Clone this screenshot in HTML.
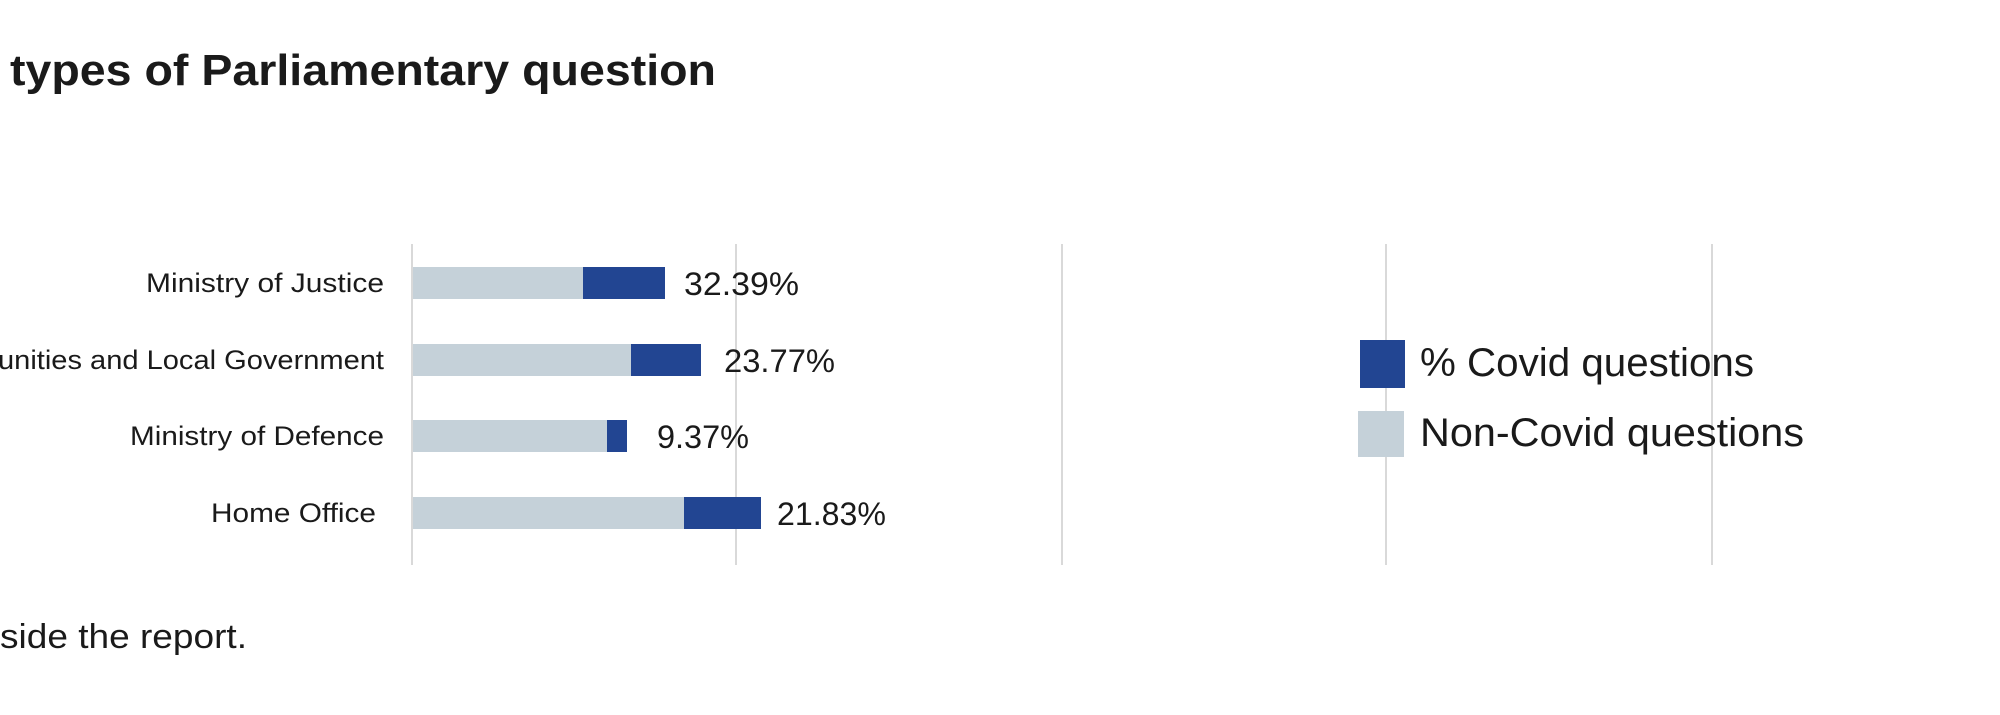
<!DOCTYPE html>
<html><head><meta charset="utf-8"><style>
html,body{margin:0;padding:0;background:#fff;}
svg{display:block;}
text{font-family:"Liberation Sans",sans-serif;fill:#1a1a1a;}
</style></head><body>
<svg width="2000" height="715" viewBox="0 0 2000 715" xmlns="http://www.w3.org/2000/svg">
<rect width="2000" height="715" fill="#fff"/>
<text x="10" y="85" font-size="44" font-weight="bold" textLength="706" lengthAdjust="spacingAndGlyphs">types of Parliamentary question</text>
<g stroke="#d9d9d9" stroke-width="2">
<line x1="412" y1="244" x2="412" y2="565"/>
<line x1="736" y1="244" x2="736" y2="565"/>
<line x1="1062" y1="244" x2="1062" y2="565"/>
<line x1="1386" y1="244" x2="1386" y2="565"/>
<line x1="1712" y1="244" x2="1712" y2="565"/>
</g>
<g>
<rect x="413" y="267" width="170" height="32" fill="#c5d1d9"/>
<rect x="583" y="267" width="82" height="32" fill="#224592"/>
<rect x="413" y="344" width="218" height="32" fill="#c5d1d9"/>
<rect x="631" y="344" width="70" height="32" fill="#224592"/>
<rect x="413" y="420" width="194" height="32" fill="#c5d1d9"/>
<rect x="607" y="420" width="20" height="32" fill="#224592"/>
<rect x="413" y="497" width="271" height="32" fill="#c5d1d9"/>
<rect x="684" y="497" width="77" height="32" fill="#224592"/>
</g>
<g font-size="27" text-anchor="end">
<text x="384" y="292" textLength="238" lengthAdjust="spacingAndGlyphs">Ministry of Justice</text>
<text x="384" y="369" textLength="386" lengthAdjust="spacingAndGlyphs">unities and Local Government</text>
<text x="384" y="445" textLength="254" lengthAdjust="spacingAndGlyphs">Ministry of Defence</text>
<text x="376" y="522" textLength="165" lengthAdjust="spacingAndGlyphs">Home Office</text>
</g>
<g font-size="32">
<text x="684" y="295" textLength="115" lengthAdjust="spacingAndGlyphs">32.39%</text>
<text x="724" y="372" textLength="111" lengthAdjust="spacingAndGlyphs">23.77%</text>
<text x="657" y="448" textLength="92" lengthAdjust="spacingAndGlyphs">9.37%</text>
<text x="777" y="525" textLength="109" lengthAdjust="spacingAndGlyphs">21.83%</text>
</g>
<rect x="1360" y="340" width="45" height="48" fill="#224592"/>
<rect x="1358" y="411" width="46" height="46" fill="#c5d1d9"/>
<g font-size="40">
<text x="1420" y="376" textLength="334" lengthAdjust="spacingAndGlyphs">% Covid questions</text>
<text x="1420" y="446" textLength="384" lengthAdjust="spacingAndGlyphs">Non-Covid questions</text>
</g>
<text x="0" y="648" font-size="34" textLength="247" lengthAdjust="spacingAndGlyphs">side the report.</text>
</svg>
</body></html>
